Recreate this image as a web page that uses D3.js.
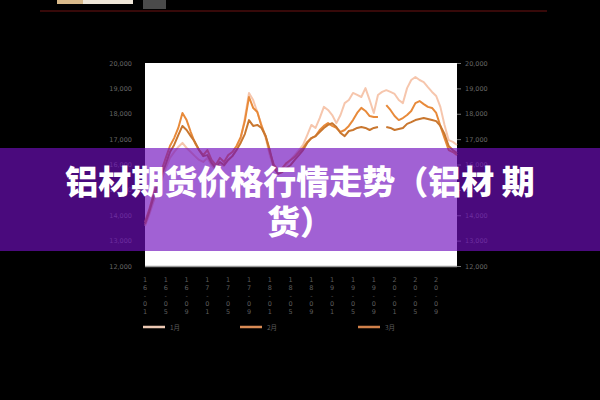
<!DOCTYPE html>
<html><head><meta charset="utf-8">
<script src="https://cdn.jsdelivr.net/npm/d3@7/dist/d3.min.js"></script>
<style>
html,body{margin:0;padding:0;background:#000;}
svg{display:block;}
</style></head>
<body>
<svg id="c" width="600" height="400"></svg>
<script>
const titleLines = ["铝材期货价格行情走势（铝材 期", "货）"];
const seriesNames = ["1月", "2月", "3月"];
const xTickLabels = ["16-01","16-05","16-09","17-01","17-05","17-09","18-01","18-05","18-09","19-01","19-05","19-09","20-01","20-05","20-09"];
const yTicks = [12000,13000,14000,15000,16000,17000,18000,19000,20000];
const peach = [13580,14010,14520,14990,15390,15860,16260,16490,16690,16850,16650,16490,16330,16180,16100,16260,15980,15780,16020,15940,16180,16330,16570,16960,17830,18820,18540,18070,17560,17040,16370,15860,15700,15780,15980,16180,16370,16570,16770,17160,17560,17440,17830,18270,18150,17950,17630,17950,18420,18540,18820,18740,18660,19010,18540,18030,18740,18860,18930,18860,18780,18540,18420,19010,19330,19450,19330,19250,19050,18860,18700,18270,17560,16960,16890,16770];
const orange = [13730,14210,14800,15310,15780,16260,16730,17040,17440,18030,17750,17280,16850,16570,16370,16570,16180,15980,16260,16100,16370,16490,16730,17080,17710,18660,18230,18070,17520,17120,16490,15980,15780,15860,16060,16180,16300,16490,16650,16890,17040,17120,17360,17520,17630,17520,17440,17280,17360,17520,17750,18030,18230,18110,17910,17870,17870,null,18340,18150,17910,17750,17830,17950,18110,18420,18500,18380,18270,18230,18030,17520,17040,16570,16490,16370];
const dark = [13650,14130,14680,15150,15590,16020,16490,16770,17160,17520,17360,17120,16890,16570,16330,16370,16060,15860,16100,15980,16180,16330,16570,16850,17200,17750,17520,17560,17440,17120,16570,15860,15630,15700,15860,15980,16180,16370,16570,16850,17040,17120,17280,17440,17560,17630,17480,17240,17120,17320,17360,17440,17480,17440,17360,17440,17480,null,17480,17440,17360,17400,17440,17600,17670,17750,17790,17830,17790,17750,17710,17520,17200,16730,16570,16450];

const svg = d3.select("#c");
const W = 600, H = 400;
const L = 145, R = 457, T = 63, B = 266;
const labelCol = "#666";

// top decorations
svg.append("rect").attr("x",57).attr("y",0).attr("width",76).attr("height",4).attr("fill","#efe6d8");
svg.append("rect").attr("x",57).attr("y",0).attr("width",26).attr("height",4).attr("fill","#d9b98a");
svg.append("rect").attr("x",143).attr("y",0).attr("width",23).attr("height",9).attr("fill","#4a4a4a");
svg.append("line").attr("x1",40).attr("x2",547).attr("y1",11).attr("y2",11).attr("stroke","#4a0d0d").attr("stroke-width",1.5);

// plot area
svg.append("rect").attr("x",L).attr("y",T).attr("width",R-L).attr("height",B-T).attr("fill","#fff");
svg.append("line").attr("x1",L).attr("x2",R).attr("y1",B+0.5).attr("y2",B+0.5).attr("stroke","#9a9a9a").attr("stroke-width",1.5);

const n = orange.length;
const x = d3.scaleLinear().domain([0, n-1]).range([L, R]);
const y = d3.scaleLinear().domain([yTicks[0], yTicks[yTicks.length-1]]).range([B, T]);

const fmt = d3.format(",");
const yl = svg.append("g").attr("transform",`translate(${L-10},0)`)
  .call(d3.axisLeft(y).tickValues(yTicks).tickSize(0).tickFormat(fmt));
yl.select(".domain").remove();
yl.selectAll("text").attr("fill",labelCol).attr("font-size","6.5px").attr("font-family","DejaVu Sans").attr("dy","0.32em");

const yr = svg.append("g").attr("transform",`translate(${R},0)`)
  .call(d3.axisRight(y).tickValues(yTicks).tickSize(4).tickPadding(4).tickFormat(fmt));
yr.select(".domain").remove();
yr.selectAll("line").attr("stroke","#777");
yr.selectAll("text").attr("fill",labelCol).attr("font-size","6.5px").attr("font-family","DejaVu Sans").attr("dy","0.32em");

// x tick labels (vertical)
const xIdx = xTickLabels.map((d,i)=>i*5);
svg.append("g").selectAll("text").data(xTickLabels).join("text")
  .attr("x",(d,i)=>x(xIdx[i])).attr("y",276)
  .attr("fill","#5e5e5e").attr("font-size","6.5px").attr("font-family","DejaVu Sans")
  .style("writing-mode","vertical-rl").style("text-orientation","upright")
  .text(d=>d);

// lines
const line = d3.line().defined(d=>d!=null).x((d,i)=>x(i)).y(d=>y(d));
const series = [
  {vals: peach, color:"#f4bc9f", op:0.85},
  {vals: orange, color:"#e88a3a", op:1},
  {vals: dark, color:"#c9772f", op:1}
];
series.forEach(s=>{
  svg.append("path").datum(s.vals).attr("d",line).attr("fill","none")
    .attr("stroke",s.color).attr("stroke-width",2).attr("stroke-opacity",s.op)
    .attr("stroke-linejoin","round");
});

// legend
const legX = [143, 240, 358];
const legCol = ["#ecc8b3","#d98b55","#d0804a"];
seriesNames.forEach((nm,i)=>{
  svg.append("line").attr("x1",legX[i]).attr("x2",legX[i]+22).attr("y1",327).attr("y2",327)
    .attr("stroke",legCol[i]).attr("stroke-width",2.5);
  svg.append("text").attr("x",legX[i]+27).attr("y",329.5).text(nm)
    .attr("fill","#5e5e5e").attr("font-size","6.5px").attr("font-family","Noto Sans CJK SC");
});

// banner
svg.append("rect").attr("x",0).attr("y",148).attr("width",W).attr("height",103)
  .attr("fill","rgb(112,15,190)").attr("fill-opacity",0.66);
svg.append("g").selectAll("text").data(titleLines).join("text")
  .attr("x",300).attr("y",(d,i)=>194+i*40)
  .attr("text-anchor","middle").attr("fill","#fff")
  .attr("font-family","Noto Sans CJK SC").attr("font-weight","900").attr("font-size","33px")
  .text(d=>d);
</script>
</body></html>
